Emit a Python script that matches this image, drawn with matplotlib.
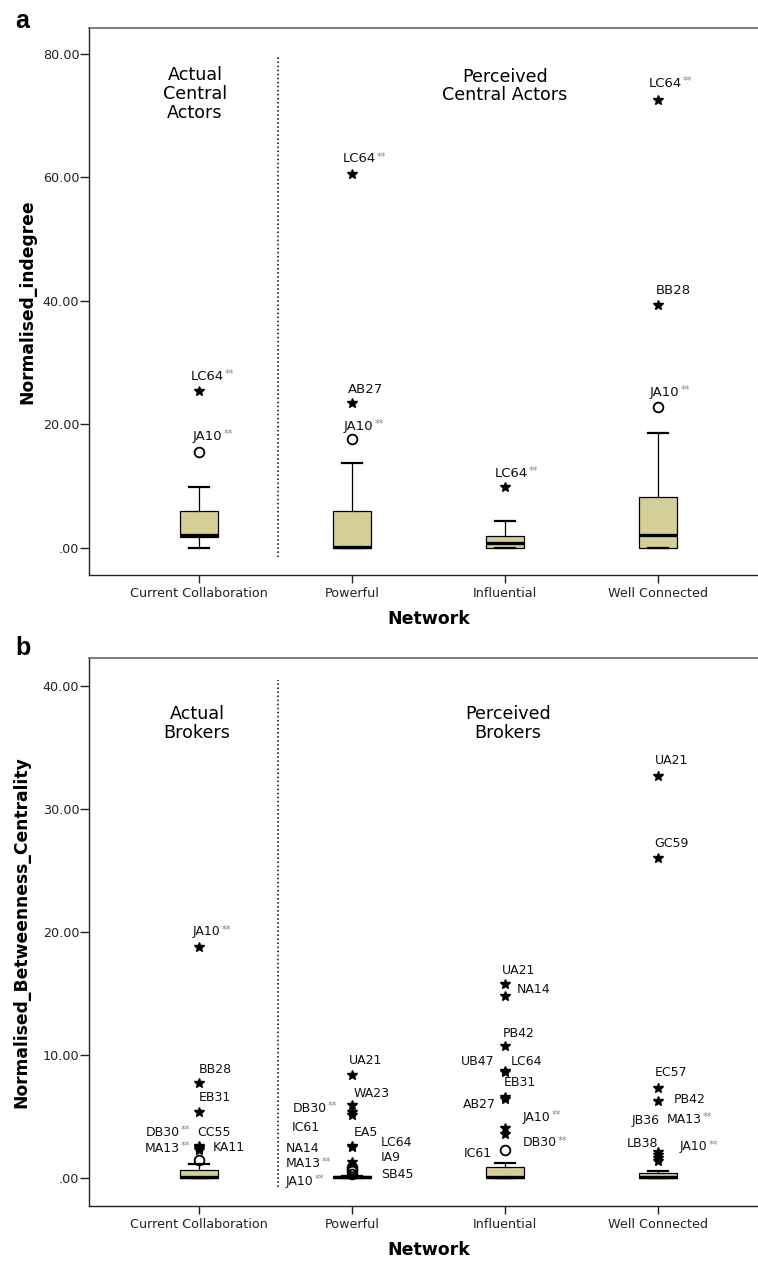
import numpy as np
import matplotlib
matplotlib.use('Agg')
import matplotlib.pyplot as plt
from matplotlib.ticker import FuncFormatter

# --- Data ---
categories = ['Current Collaboration', 'Powerful', 'Influential', 'Well Connected']

# panel a: normalised indegree
indeg_whislo = [0.0, 0.0, 0.0, 0.0]
indeg_q1 = [1.83, 0.0, 0.0, 0.0]
indeg_med = [2.1, 0.1, 0.75, 2.1]
indeg_q3 = [6.0, 6.0, 2.0, 8.3]
indeg_whishi = [9.8, 13.7, 4.4, 18.7]

indeg_out_group = [0, 0, 1, 1, 1, 2, 3, 3, 3]
indeg_out_val = [25.5, 15.6, 60.6, 23.4, 17.6, 9.8, 72.6, 39.4, 22.9]
indeg_out_kind = ['*', 'o', '*', '*', 'o', '*', '*', '*', 'o']
indeg_out_name = ['LC64**', 'JA10**', 'LC64**', 'AB27', 'JA10**', 'LC64**',
                  'LC64**', 'BB28', 'JA10**']

# panel b: normalised betweenness centrality
betw_whislo = [0.0, 0.0, 0.0, 0.0]
betw_q1 = [0.0, 0.0, 0.0, 0.0]
betw_med = [0.05, 0.08, 0.05, 0.05]
betw_q3 = [0.65, 0.15, 0.93, 0.4]
betw_whishi = [1.15, 0.15, 1.2, 0.6]

betw_out_group = [0, 0, 0, 0, 0, 0, 0, 0,
                  1, 1, 1, 1, 1, 1, 1, 1, 1, 1, 1,
                  2, 2, 2, 2, 2, 2, 2, 2, 2, 2,
                  3, 3, 3, 3, 3, 3, 3, 3]
betw_out_val = [18.8, 7.75, 5.4, 2.6, 2.5, 2.4, 2.3, 1.5,
                8.4, 5.9, 5.4, 5.1, 2.6, 2.5, 1.3, 0.9, 0.75, 0.6, 0.3,
                15.8, 14.8, 10.7, 8.7, 8.6, 6.6, 6.4, 4.1, 3.6, 2.3,
                32.7, 26.0, 7.35, 6.25, 2.1, 1.9, 1.6, 1.4]
betw_out_kind = ['*', '*', '*', '*', '*', '*', '*', 'o',
                 '*', '*', '*', '*', '*', '*', '*', 'o', 'o', 'o', 'o',
                 '*', '*', '*', '*', '*', '*', '*', '*', '*', 'o',
                 '*', '*', '*', '*', '*', '*', '*', '*']
betw_out_name = ['JA10**', 'BB28', 'EB31', 'DB30**', 'CC55', 'MA13**', 'KA11', '',
                 'UA21', 'WA23', 'DB30**', 'IC61', 'EA5', 'NA14', 'MA13**', 'LC64', 'IA9', 'SB45', 'JA10**',
                 'UA21', 'NA14', 'PB42', 'UB47', 'LC64', 'EB31', 'AB27', 'JA10**', 'DB30**', 'IC61',
                 'UA21', 'GC59', 'EC57', 'PB42', 'JB36', 'MA13**', 'LB38', 'JA10**']

# label placement (pixel offsets from the marker, horizontal alignment)
indeg_label_pos = [(-8, 14, 'left'), (-6, 15, 'left'), (-9, 15, 'left'), (-4, 14, 'left'),
                   (-8, 13, 'left'), (-10, 14, 'left'), (-9, 16, 'left'), (-2, 14, 'left'),
                   (-8, 14, 'left')]
betw_label_pos = [(-6, 15, 'left'), (0, 13, 'left'), (0, 14, 'left'), (-19, 14, 'right'),
                  (-2, 15, 'left'), (-19, 0, 'right'), (14, 2, 'left'), (0, 0, 'left'),
                  (-3, 14, 'left'), (2, 12, 'left'), (-25, 3, 'right'), (-60, -12, 'left'),
                  (2, 14, 'left'), (-66, -1, 'left'), (-66, -2, 'left'), (29, 24, 'left'),
                  (29, 11, 'left'), (29, -4, 'left'), (-66, -7, 'left'),
                  (-3, 13, 'left'), (12, 7, 'left'), (-2, 13, 'left'), (-10, 10, 'right'),
                  (6, 11, 'left'), (-1, 14, 'left'), (-9, -5, 'right'), (18, 10, 'left'),
                  (18, -9, 'left'), (-13, -4, 'right'),
                  (-3, 16, 'left'), (-4, 15, 'left'), (-3, 15, 'left'), (16, 2, 'left'),
                  (-26, 32, 'left'), (9, 35, 'left'), (-31, 15, 'left'), (22, 14, 'left')]

BOX_COLOR = '#d4cf99'
W, H = 758, 1261
plt.rcParams['font.family'] = 'DejaVu Sans'


def yfmt(v, pos):
    s = f'{v:.2f}'
    return s[1:] if s.startswith('0') else s


def draw_panel(ax, whislo, q1, med, q3, whishi, out_group, out_val, out_kind,
               out_name, label_pos, ylim, yticks, ylabel, ylab_x, div_top, label_fs):
    positions = np.arange(1, len(categories) + 1)
    stats = []
    for i in range(len(categories)):
        stats.append({'whislo': whislo[i], 'q1': q1[i], 'med': med[i],
                      'q3': q3[i], 'whishi': whishi[i], 'fliers': []})
    ax.bxp(stats, positions=positions, widths=0.25, patch_artist=True,
           showfliers=False,
           boxprops=dict(facecolor=BOX_COLOR, edgecolor='black', linewidth=0.9),
           medianprops=dict(color='black', linewidth=2.4, solid_capstyle='butt'),
           whiskerprops=dict(color='black', linewidth=0.9),
           capprops=dict(color='black', linewidth=1.6))

    for g, v, k, name, (dx, dy, ha) in zip(out_group, out_val, out_kind,
                                           out_name, label_pos):
        x = positions[g]
        if k == '*':
            ax.plot(x, v, marker='*', color='black', markersize=7.5,
                    linestyle='none', zorder=5)
        else:
            ax.plot(x, v, marker='o', markerfacecolor='none', markeredgecolor='black',
                    markersize=7, markeredgewidth=1.3, linestyle='none', zorder=5)
        if not name:
            continue
        starred = name.endswith('**')
        base = name[:-2] if starred else name
        t = ax.annotate(base, xy=(x, v), xytext=(dx, dy), textcoords='offset pixels',
                        ha=ha, va='center', fontsize=label_fs, color='#111111')
        if starred:
            ax.annotate('**', xy=(1, 1), xycoords=t, xytext=(0.6, 0.5),
                        textcoords='offset points', ha='left', va='top',
                        fontsize=7, color='#8a8a8a')

    ax.set_xlim(0.281, 4.719)
    ax.set_ylim(*ylim)
    ax.set_yticks(yticks)
    ax.yaxis.set_major_formatter(FuncFormatter(yfmt))
    ax.set_xticks(positions)
    ax.set_xticklabels(categories)
    ax.tick_params(axis='y', direction='out', length=6.5, width=1.0, pad=0.5,
                   labelsize=9.2, colors='#222222')
    ax.tick_params(axis='x', direction='out', length=5.5, width=1.0, pad=3.5,
                   labelsize=9.2, colors='#222222')

    for side in ['left', 'bottom']:
        ax.spines[side].set_color('#222222')
        ax.spines[side].set_linewidth(1.0)
    ax.spines['top'].set_color('#666666')
    ax.spines['top'].set_linewidth(1.2)
    ax.spines['right'].set_visible(False)

    # divider between actual and perceived networks
    ax.plot([1.516, 1.516], [ylim[0] * 0.32, div_top], linestyle=':',
            color='black', linewidth=1.1)

    ax.set_ylabel(ylabel, fontsize=12.3, fontweight='bold', va='center')
    ax.yaxis.set_label_coords(ylab_x, 0.5)
    ax.set_xlabel('Network', fontsize=12.5, fontweight='bold', va='center')
    ax.xaxis.set_label_coords(0.5, -0.080)


fig = plt.figure(figsize=(W / 100, H / 100), dpi=100)
ax_a = fig.add_axes([89 / W, 1 - 575 / H, 679 / W, 547 / H])
ax_b = fig.add_axes([89 / W, 1 - 1206 / H, 679 / W, 548 / H])

draw_panel(ax_a, indeg_whislo, indeg_q1, indeg_med, indeg_q3, indeg_whishi,
           indeg_out_group, indeg_out_val, indeg_out_kind, indeg_out_name,
           indeg_label_pos, (-4.37, 84.2), [0, 20, 40, 60, 80],
           'Normalised_indegree', -0.091, 79.6, 9.5)
ax_a.text(0.974, 73.5, 'Actual\nCentral\nActors', ha='center', va='center',
          fontsize=12.6, multialignment='center', linespacing=1.05)
ax_a.text(3.0, 74.8, 'Perceived\nCentral Actors', ha='center', va='center',
          fontsize=12.6, multialignment='center', linespacing=1.05)

draw_panel(ax_b, betw_whislo, betw_q1, betw_med, betw_q3, betw_whishi,
           betw_out_group, betw_out_val, betw_out_kind, betw_out_name,
           betw_label_pos, (-2.28, 42.3), [0, 10, 20, 30, 40],
           'Normalised_Betweenness_Centrality', -0.099, 40.5, 9.0)
ax_b.text(0.987, 36.95, 'Actual\nBrokers', ha='center', va='center',
          fontsize=12.6, multialignment='center', linespacing=1.05)
ax_b.text(3.02, 36.95, 'Perceived\nBrokers', ha='center', va='center',
          fontsize=12.6, multialignment='center', linespacing=1.05)

fig.text(15 / W, 1 - 28 / H, 'a', fontsize=18, fontweight='bold',
         family='Liberation Sans', va='baseline', ha='left')
fig.text(15 / W, 1 - 655 / H, 'b', fontsize=18, fontweight='bold',
         family='Liberation Sans', va='baseline', ha='left')

fig.savefig('out.png', dpi=100)
